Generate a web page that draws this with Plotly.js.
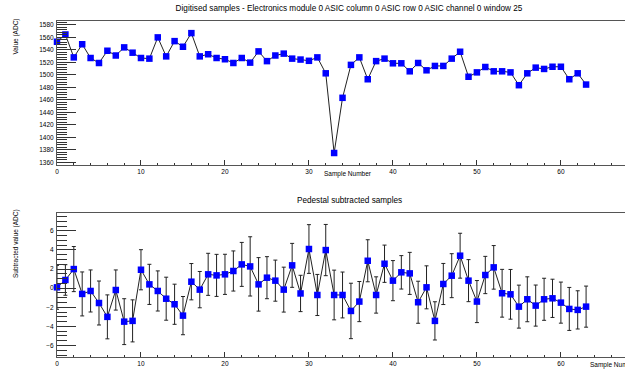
<!DOCTYPE html>
<html>
<head>
<meta charset="utf-8">
<script src="https://cdn.plot.ly/plotly-3.0.1.min.js"></script>
<style>
html,body{margin:0;padding:0;overflow:hidden;background:#fff;}
#chart{width:700px;height:369px;}
</style>
</head>
<body>
<div id="chart"></div>
<script>
const sampleNumbers = [0,1,2,3,4,5,6,7,8,9,10,11,12,13,14,15,16,17,18,19,20,21,22,23,24,25,26,27,28,29,30,31,
  32,33,34,35,36,37,38,39,40,41,42,43,44,45,46,47,48,49,50,51,52,53,54,55,56,57,58,59,60,61,62,63];

const rawValues = [1553,1564.6,1528,1549,1527,1519,1538.6,1531,1544,1535.5,1527,1526,1560,1529.6,1554,1545,
  1566.8,1529.6,1533,1527,1525,1519,1527,1519.6,1537.6,1522,1531,1534,1526,1524.5,1522.5,1528,
  1502.5,1375,1463.3,1516,1528,1493,1522,1526,1518.5,1518.5,1505.7,1519,1507.3,1514.3,1514.3,1526,
  1537,1497,1504,1512.6,1505.7,1505.7,1504,1483.5,1502.5,1511.6,1509.5,1513,1513,1493,1502.5,1484.5];

const subValues = [0.09,0.86,2.0,-0.6,-0.29,-1.55,-3.0,-0.19,-3.5,-3.42,1.93,0.4,-0.29,-1.1,-1.68,-2.87,
  0.68,-0.15,1.45,1.34,1.45,1.8,2.49,2.28,0.4,1.1,0.79,-0.15,2.39,-0.55,4.1,-0.71,
  3.99,-0.71,-0.71,-2.38,-1.4,2.87,-0.71,2.56,0.79,1.66,1.55,-1.47,0.09,-3.42,0.44,1.31,
  3.4,0.79,-1.4,1.38,2.18,-0.53,-0.64,-1.93,-1.16,-1.82,-1.16,-1.06,-1.51,-2.17,-2.27,-1.93];

const subErrors = [2.3,1.6,2.36,2.3,2.2,2.3,2.3,2.1,2.4,2.2,2.1,2.1,2.1,2.25,2.1,2.0,
  1.9,1.9,2.2,2.2,2.1,2.1,2.3,3.1,2.8,2.2,2.15,2.35,2.3,1.9,2.55,2.15,
  2.68,2.6,2.4,2.9,2.1,2.2,1.9,1.95,2.1,1.75,2.2,2.2,2.25,2.0,2.15,2.3,
  2.35,2.2,2.2,1.95,2.28,2.5,2.6,2.25,2.35,2.15,2.2,2.0,2.15,2.25,2.0,2.15];

const titleTop = "Digitised samples - Electronics module 0 ASIC column 0 ASIC row 0 ASIC channel 0 window 25";
const titleBottom = "Pedestal subtracted samples";
const xTitle = "Sample Number";
const yTitleTop = "Value (ADC)";
const yTitleBottom = "Subtracted value (ADC)";

const FONT = "Liberation Sans, Arial, Helvetica, sans-serif";
const LINE = "#555";
const TICK = "#333";

const marker = {symbol: 'square', size: 6.5, color: '#0000ff', line: {width: 0}};

const traces = [
  {x: sampleNumbers, y: rawValues, xaxis: 'x', yaxis: 'y', type: 'scatter', mode: 'lines+markers',
   line: {color: '#222', width: 1}, marker: marker, cliponaxis: false, hoverinfo: 'x+y'},
  {x: sampleNumbers, y: subValues, xaxis: 'x2', yaxis: 'y2', type: 'scatter', mode: 'lines+markers',
   line: {color: '#222', width: 1}, marker: marker, cliponaxis: false,
   error_y: {type: 'data', array: subErrors, visible: true, color: '#222', thickness: 1, width: 2}}
];

function xAxis(anchor) {
  return {
    anchor: anchor, range: [0, 69.3], domain: [0, 1],
    showgrid: false, zeroline: false,
    showline: true, linecolor: LINE, linewidth: 1, mirror: true,
    ticks: 'inside', ticklen: 5, tickcolor: TICK, tickwidth: 1,
    tick0: 0, dtick: 10,
    minor: {dtick: 2, ticklen: 2.5, ticks: 'inside', tickcolor: TICK, tickwidth: 1, showgrid: false},
    tickfont: {family: FONT, size: 6.5, color: '#000'},
    ticklabelstandoff: 0,
    fixedrange: true
  };
}
function yAxis(anchor, domain, range, dtick, minorDtick) {
  return {
    anchor: anchor, domain: domain, range: range,
    showgrid: false, zeroline: false,
    showline: true, linecolor: LINE, linewidth: 1, mirror: true,
    ticks: 'inside', ticklen: 19, tickcolor: TICK, tickwidth: 1,
    tick0: 0, dtick: dtick,
    minor: {dtick: minorDtick, ticklen: 10, ticks: 'inside', tickcolor: TICK, tickwidth: 1, showgrid: false},
    tickfont: {family: FONT, size: 6.5, color: '#000'},
    ticklabelstandoff: 1,
    fixedrange: true
  };
}

const l = 57, r = 61, t = 21, b = 12, H = 369;
const ph = H - t - b;
const py = v => (H - b - v) / ph;     // pixel row -> paper y
const px = v => (v - l) / (700 - l - r); // pixel column -> paper x

const layout = {
  width: 700, height: H,
  margin: {l: l, r: r, t: t, b: b, pad: 0},
  paper_bgcolor: '#fff', plot_bgcolor: '#fff',
  showlegend: false,
  font: {family: FONT, color: '#000'},
  title: {text: titleTop, font: {family: FONT, size: 8.2, color: '#000'},
          x: px(349), xref: 'paper', xanchor: 'center', y: 1 - 8 / H, yref: 'container', yanchor: 'middle'},
  xaxis: xAxis('y'),
  yaxis: yAxis('x', [py(165), 1], [1355.8, 1586.2], 20, 4),
  xaxis2: xAxis('y2'),
  yaxis2: yAxis('x2', [0, py(212.7)], [-7.2, 7.9], 2, 0.5),
  annotations: [
    {text: titleBottom, xref: 'paper', yref: 'paper', x: px(349), y: py(200), xanchor: 'center', yanchor: 'middle',
     showarrow: false, font: {family: FONT, size: 8.2, color: '#000'}},
    {text: xTitle, xref: 'paper', yref: 'paper', x: px(348), y: py(174), xanchor: 'center', yanchor: 'middle',
     showarrow: false, font: {family: FONT, size: 6.5, color: '#000'}},
    {text: xTitle, xref: 'paper', yref: 'paper', x: px(640), y: py(365), xanchor: 'right', yanchor: 'middle',
     showarrow: false, font: {family: FONT, size: 6.5, color: '#000'}},
    {text: yTitleTop, xref: 'paper', yref: 'paper', x: px(16), y: py(36.5), xanchor: 'center', yanchor: 'middle',
     textangle: -90, showarrow: false, font: {family: FONT, size: 6.5, color: '#000'}},
    {text: yTitleBottom, xref: 'paper', yref: 'paper', x: px(16), y: py(244), xanchor: 'center', yanchor: 'middle',
     textangle: -90, showarrow: false, font: {family: FONT, size: 6.5, color: '#000'}}
  ]
};

Plotly.newPlot('chart', traces, layout, {displayModeBar: false, staticPlot: true});
</script>
</body>
</html>
